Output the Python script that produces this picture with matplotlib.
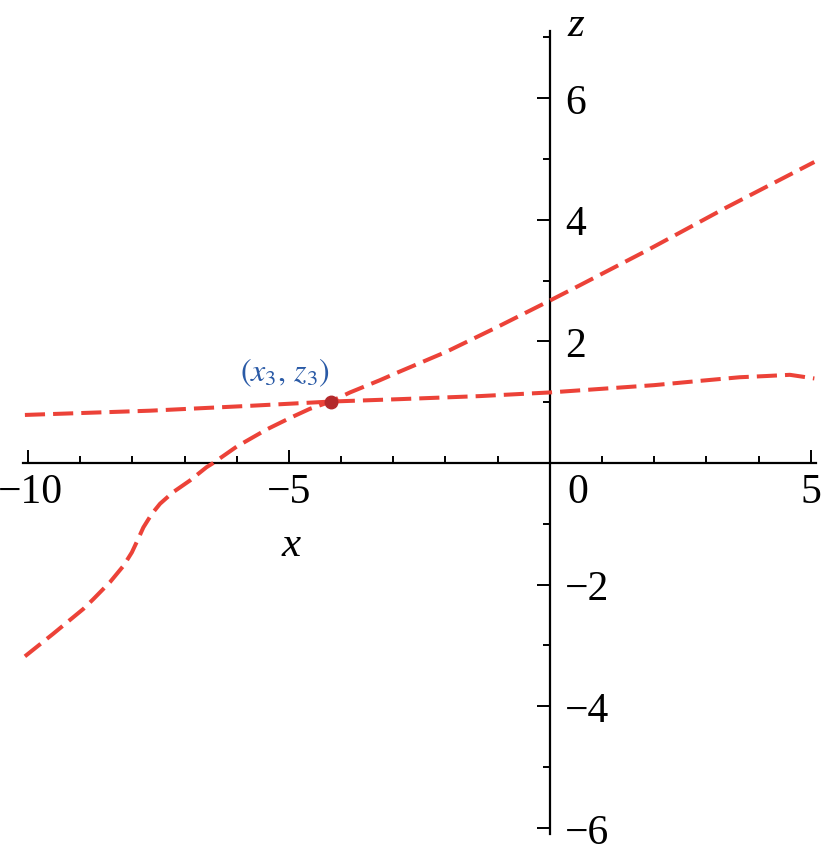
import matplotlib.pyplot as plt
import matplotlib.ticker as ticker

# values
x_flat = [-10.06, -7.66, -5.75, -4.2, -2.87, -1.34, 0.0, 1.0, 2.0, 2.87, 3.64, 4.15, 4.6, 5.07]
z_flat = [0.79, 0.86, 0.94, 1.01, 1.05, 1.10, 1.16, 1.22, 1.28, 1.35, 1.41, 1.43, 1.45, 1.39]

x_steep = [-10.06, -9.52, -8.94, -8.75, -8.43, -8.17, -8.01, -7.89, -7.79, -7.63,
           -7.47, -7.22, -6.90, -6.58, -6.45, -6.0, -5.43, -4.98, -4.6, -4.2,
           -3.83, -3.26, -2.94, -1.98, -1.02, 0.0, 0.57, 1.85, 3.38, 5.07]
z_steep = [-3.18, -2.81, -2.40, -2.24, -1.96, -1.69, -1.47, -1.25, -1.06, -0.84,
           -0.67, -0.48, -0.29, -0.07, 0.0, 0.27, 0.55, 0.74, 0.89, 1.01,
           1.16, 1.36, 1.48, 1.83, 2.23, 2.67, 2.92, 3.49, 4.2, 4.95]

point_x, point_z = -4.2, 1.01
point_label = r'$(x_3,\, z_3)$'

x_major = [-10, -5, 5]
z_major = [-6, -4, -2, 2, 4, 6]

line_color = '#ec4238'
serif = 'Liberation Serif'


def main():
    plt.rcParams['font.family'] = serif
    plt.rcParams['mathtext.fontset'] = 'stix'

    fig = plt.figure(figsize=(8.21, 8.53), dpi=100)
    ax = fig.add_axes([0.0278, 0.0212, 0.966, 0.941])
    ax.set_xlim(-10.1, 5.1)
    ax.set_ylim(-6.1, 7.1)

    ax.plot(x_flat, z_flat, color=line_color, linewidth=2.9, linestyle=(0, (5, 2)))
    ax.plot(x_steep, z_steep, color=line_color, linewidth=2.9, linestyle=(0, (5, 2)))
    ax.plot([point_x], [point_z], 'o', color='#b3292b', markersize=9, zorder=5)
    ax.annotate(point_label, xy=(point_x, point_z), xytext=(-33, 10),
                textcoords='offset points', ha='center', va='bottom',
                fontsize=23, color='#2a5aa6')

    # axes through the origin
    ax.spines['top'].set_visible(False)
    ax.spines['left'].set_visible(False)
    ax.spines['bottom'].set_position(('data', 0))
    ax.spines['right'].set_position(('data', 0))
    for s in ('bottom', 'right'):
        ax.spines[s].set_linewidth(1.6)
        ax.spines[s].set_zorder(1)

    ax.xaxis.set_ticks_position('bottom')
    ax.yaxis.set_ticks_position('right')
    ax.set_xticks(x_major)
    ax.set_xticklabels(['', '\u22125', '5'])
    ax.set_yticks(z_major)
    ax.xaxis.set_minor_locator(ticker.MultipleLocator(1))
    ax.yaxis.set_minor_locator(ticker.MultipleLocator(1))

    ax.tick_params(axis='x', which='major', direction='in', length=9.4, width=1.4,
                   labelsize=30, pad=7)
    ax.tick_params(axis='x', which='minor', direction='in', length=5.4, width=1.4)
    ax.tick_params(axis='y', which='major', direction='in', length=9.4, width=1.4,
                   labelsize=30, pad=11)
    ax.tick_params(axis='y', which='minor', direction='in', length=5.4, width=1.4)

    # -10 nudged off the left edge, 0 sits right of the z axis
    ax.annotate('\u221210', xy=(-10, 0), xytext=(2, -7), textcoords='offset points',
                ha='center', va='top', fontsize=30)
    ax.annotate('0', xy=(0.53, 0), xytext=(0, -7), textcoords='offset points',
                ha='center', va='top', fontsize=30)

    ax.annotate('x', xy=(-4.95, 0), xytext=(0, -66), textcoords='offset points',
                ha='center', va='baseline', fontsize=31, style='italic')
    ax.annotate('z', xy=(0.34, 7.04), ha='left', va='baseline',
                fontsize=31, style='italic')

    fig.savefig('out.png', dpi=100)


if __name__ == '__main__':
    main()
